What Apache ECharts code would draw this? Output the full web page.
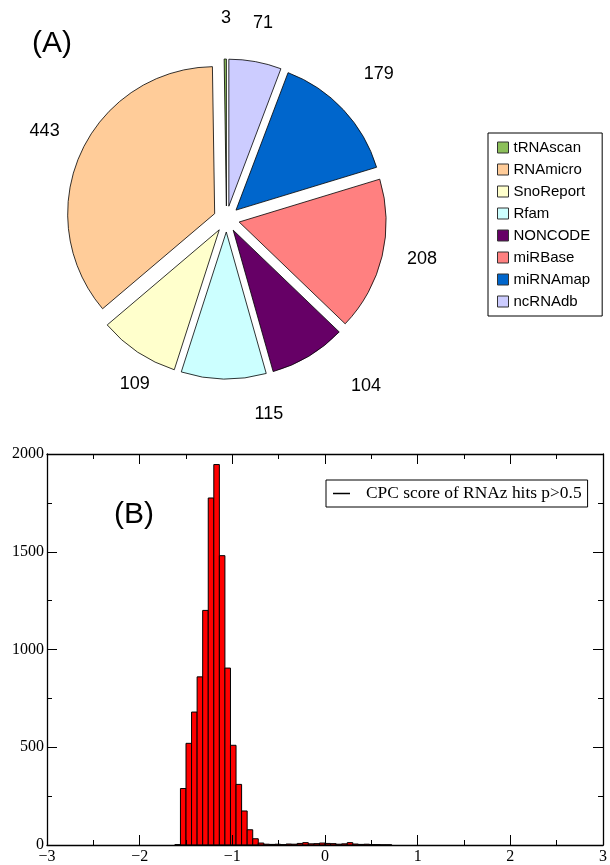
<!DOCTYPE html>
<html><head><meta charset="utf-8">
<script src="https://cdn.jsdelivr.net/npm/echarts@6/dist/echarts.min.js"></script>
<style>html,body{margin:0;padding:0;background:#fff}#c{width:610px;height:865px}</style>
</head><body><div id="c"></div>
<script>
// ---- Pie (A) data ----
const pieNames = ['tRNAscan','RNAmicro','SnoReport','Rfam','NONCODE','miRBase','miRNAmap','ncRNAdb'];
const pieValues = [3, 443, 109, 115, 104, 208, 179, 71];
const pieColors = ['#8cbf5a','#ffcc99','#ffffcc','#ccffff','#660066','#ff8080','#0066cc','#ccccff'];

// ---- Histogram (B) data ----
const binStarts = [-1.62,-1.56,-1.50,-1.44,-1.38,-1.32,-1.26,-1.20,-1.14,-1.08,-1.02,-0.96,-0.90,-0.84,-0.78,-0.72,
  -0.66,-0.60,-0.54,-0.48,-0.42,-0.36,-0.30,-0.24,-0.18,-0.12,-0.06,0.00,0.06,0.12,0.18,0.24,0.30,0.36,0.42,0.48,0.54,0.60,0.66];
const binCounts = [2,289,520,680,860,1200,1775,1946,1480,905,510,310,174,78,32,10,
  4,3,4,2,5,4,8,12,6,7,10,8,7,4,6,12,5,3,4,2,2,1,1];
const binWidth = 0.06;
const histLegend = 'CPC score of RNAz hits p>0.5';
const xRange = [-3, 3];
const yRange = [0, 2000];

// label placement tweaks (style only, pixels)
const labelOffsets = {
  tRNAscan: [1, 2], RNAmicro: [3, -4], SnoReport: [21, -4], Rfam: [46, -8],
  NONCODE: [35, -7], miRBase: [-2, -7], miRNAmap: [4, -6], ncRNAdb: [0, 4]
};

const chart = echarts.init(document.getElementById('c'), null, {renderer: 'canvas'});

const pieData = pieNames.map((n, i) => ({name: n, value: pieValues[i], selected: true, itemStyle: {color: pieColors[i]}}));
const labelData = pieNames.map((n, i) => ({name: n, value: pieValues[i], label: {offset: labelOffsets[n]}}));

function renderBar(params, api) {
  const x0 = api.value(0), v = api.value(1);
  const p0 = api.coord([x0, v]);
  const p1 = api.coord([x0 + binWidth, 0]);
  return {type: 'rect', shape: {x: p0[0], y: p0[1], width: p1[0] - p0[0], height: p1[1] - p0[1]},
    style: {fill: '#ff0000', stroke: '#000', lineWidth: 1}};
}

const serif = 'Liberation Serif';
const sans = 'Liberation Sans';
function axisBase(extra) {
  return Object.assign({
    type: 'value', z: 5,
    axisLine: {show: true, onZero: false, lineStyle: {color: '#000', width: 1.3}},
    axisTick: {show: true, inside: true, length: 10, lineStyle: {color: '#000', width: 1}},
    minorTick: {show: true, splitNumber: 2, length: 5, lineStyle: {color: '#000', width: 1}},
    splitLine: {show: false}, minorSplitLine: {show: false}
  }, extra);
}

chart.setOption({
  animation: false,
  title: [
    {text: '(A)', left: 27, top: 24, textStyle: {fontFamily: sans, fontSize: 30, fontWeight: 'normal', color: '#000'}},
    {text: '(B)', left: 109, top: 495, textStyle: {fontFamily: sans, fontSize: 30, fontWeight: 'normal', color: '#000'}}
  ],
  legend: [{
    orient: 'vertical', left: 488, top: 133, selectedMode: false,
    data: pieNames, icon: 'rect', itemWidth: 11, itemHeight: 11, itemGap: 7,
    padding: [7, 12, 7, 9], borderColor: '#000', borderWidth: 1,
    itemStyle: {borderColor: '#333', borderWidth: 1},
    textStyle: {fontFamily: sans, fontSize: 15, color: '#000', lineHeight: 15}
  }, {
    left: 326, top: 480, selectedMode: false,
    data: [{name: histLegend, itemStyle: {color: '#000', borderWidth: 0}}],
    icon: 'rect', itemWidth: 17, itemHeight: 1.5,
    padding: [5, 6, 5, 7], borderColor: '#000', borderWidth: 1,
    textStyle: {fontFamily: serif, fontSize: 17.4, color: '#000', padding: [0, 0, 0, 11]}
  }],
  grid: {left: 47, right: 3, top: 454, bottom: 19},
  xAxis: [
    axisBase({min: xRange[0], max: xRange[1], interval: 1, position: 'bottom',
      axisLabel: {margin: 4, fontFamily: serif, fontSize: 16, color: '#000',
        formatter: v => String(v).replace('-', '\u2212')}}),
    axisBase({min: xRange[0], max: xRange[1], interval: 1, position: 'top', axisLabel: {show: false}})
  ],
  yAxis: [
    axisBase({min: yRange[0], max: yRange[1], interval: 500, position: 'left',
      axisLabel: {margin: 3, fontFamily: serif, fontSize: 16, color: '#000', formatter: v => String(v)}}),
    axisBase({min: yRange[0], max: yRange[1], interval: 500, position: 'right', axisLabel: {show: false}})
  ],
  series: [{
    type: 'pie', name: 'sources', center: [226.5, 219], radius: 147, startAngle: 90, clockwise: false,
    selectedMode: 'multiple', selectedOffset: 13, silent: true,
    data: pieData, label: {show: false}, labelLine: {show: false},
    itemStyle: {borderColor: '#000', borderWidth: 0.8}
  }, {
    type: 'pie', name: 'labels', center: [226.5, 219], radius: [198, 202], startAngle: 90, clockwise: false,
    silent: true, data: labelData,
    itemStyle: {color: 'rgba(0,0,0,0)', borderWidth: 0},
    label: {show: true, position: 'inside', formatter: '{c}', fontFamily: sans, fontSize: 18, color: '#000'},
    labelLine: {show: false}
  }, {
    type: 'custom', name: histLegend, xAxisIndex: 0, yAxisIndex: 0,
    renderItem: renderBar, data: binStarts.map((s, i) => [s, binCounts[i]]),
    itemStyle: {color: '#ff0000'}
  }]
});
</script></body></html>
